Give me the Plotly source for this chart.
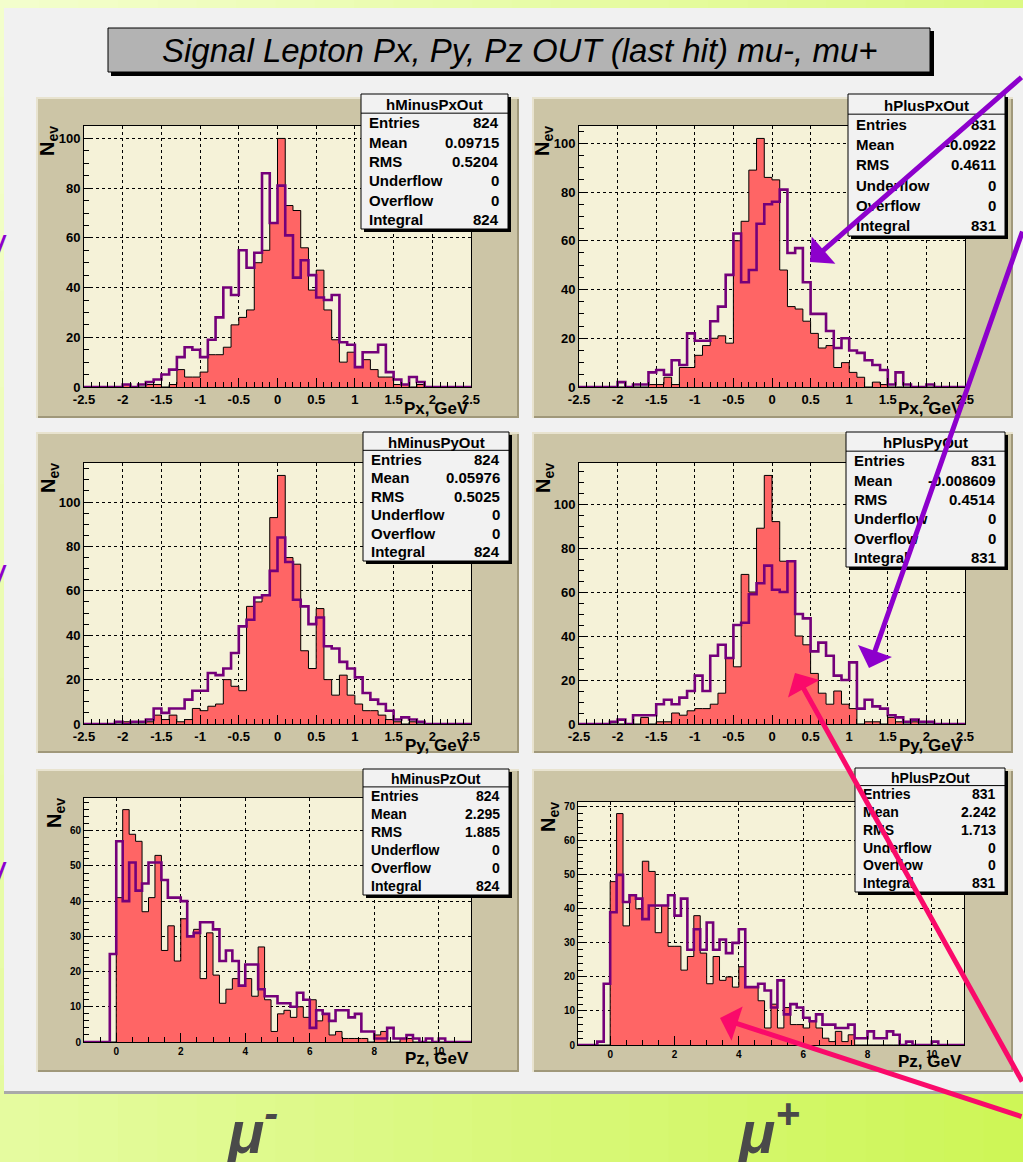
import plotly.graph_objects as go
import numpy as np

W, H = 1023, 1162
FONT = "Liberation Sans, Arial, Helvetica, sans-serif"

# ---------------- data ----------------
px_bin_edges = [round(v, 4) for v in np.linspace(-2.5, 2.5, 51)]   # 50 bins, 0.1 GeV
pz_bin_edges = [round(v, 4) for v in np.linspace(-1.0, 11.0, 61)]  # 60 bins, 0.2 GeV

minus_px_out = [0, 0, 0, 0, 0, 1, 0, 0, 1, 1, 0, 1, 7, 4, 4, 6, 13, 13, 16, 25,
                28, 31, 50, 55, 66, 100, 73, 71, 56, 39, 47, 31, 19, 10, 14, 8, 11, 7, 4, 4,
                1, 1, 0, 1, 0, 0, 0, 0, 0, 0]
minus_px_cmp = [0, 0, 0, 0, 0, 1, 0, 1, 2, 3, 5, 7, 12, 16, 15, 12, 19, 28, 40, 37,
                55, 48, 54, 86, 66, 81, 61, 44, 51, 45, 36, 35, 37, 18, 17, 8, 14, 14, 17, 6,
                3, 1, 4, 2, 0, 0, 0, 0, 0, 0]
plus_px_out = [0, 0, 0, 0, 0, 0, 0, 0, 0, 1, 1, 4, 1, 8, 8, 13, 17, 20, 21, 18,
               60, 68, 89, 102, 86, 85, 48, 33, 32, 27, 22, 16, 17, 8, 10, 6, 4, 0, 2, 1,
               0, 0, 0, 0, 0, 0, 0, 0, 0, 0]
plus_px_cmp = [0, 0, 0, 0, 0, 2, 0, 1, 1, 6, 7, 5, 11, 9, 22, 19, 19, 27, 33, 46,
               63, 43, 48, 67, 75, 76, 81, 55, 57, 43, 30, 30, 23, 16, 20, 15, 14, 11, 9, 7,
               1, 6, 1, 0, 0, 1, 0, 0, 0, 0]
minus_py_out = [0, 0, 0, 0, 0, 1, 0, 0, 1, 4, 2, 4, 1, 2, 7, 6, 8, 9, 20, 17,
                15, 53, 55, 58, 93, 112, 75, 72, 33, 25, 52, 20, 13, 22, 13, 9, 6, 6, 4, 2,
                1, 0, 1, 0, 0, 0, 0, 0, 0, 0]
minus_py_cmp = [0, 0, 0, 0, 1, 0, 1, 1, 2, 7, 5, 7, 7, 11, 15, 15, 23, 22, 25, 32,
                44, 47, 57, 58, 69, 84, 73, 56, 53, 45, 48, 35, 34, 28, 25, 21, 14, 11, 9, 6,
                2, 3, 2, 1, 0, 0, 0, 0, 0, 0]
plus_py_out = [0, 0, 0, 0, 0, 0, 0, 0, 3, 0, 1, 1, 5, 4, 6, 7, 7, 9, 14, 30,
               26, 68, 60, 89, 113, 92, 74, 74, 40, 36, 23, 14, 9, 15, 9, 7, 0, 1, 1, 0,
               3, 1, 0, 1, 0, 0, 0, 0, 0, 0]
plus_py_cmp = [0, 0, 0, 0, 1, 2, 0, 4, 4, 4, 9, 11, 9, 12, 15, 22, 15, 31, 36, 30,
               45, 46, 59, 64, 72, 61, 60, 74, 50, 48, 33, 37, 31, 22, 20, 28, 7, 11, 8, 7,
               4, 3, 1, 2, 1, 1, 0, 0, 0, 0]
minus_pz_out = [0, 0, 0, 0, 0, 41, 66, 59, 57, 37, 41, 53, 26, 33, 23, 35, 30, 32, 18, 31,
                19, 11, 15, 18, 16, 18, 13, 27, 12, 3, 8, 9, 7, 10, 7, 12, 6, 8, 2, 3,
                1, 1, 1, 1, 0, 2, 3, 0, 0, 1, 1, 0, 0, 0, 0, 0, 0, 0, 0, 0]
minus_pz_cmp = [0, 0, 0, 0, 25, 57, 40, 51, 43, 45, 51, 51, 46, 41, 41, 40, 30, 31, 34, 34,
                32, 23, 26, 23, 16, 22, 22, 15, 13, 13, 11, 11, 10, 14, 12, 4, 9, 8, 6, 9,
                9, 7, 8, 3, 3, 1, 1, 4, 1, 1, 2, 1, 0, 1, 0, 1, 0, 0, 0, 0]
plus_pz_out = [0, 0, 0, 0, 0, 48, 68, 35, 44, 40, 54, 51, 33, 41, 29, 29, 22, 26, 38, 27,
               18, 26, 19, 20, 17, 23, 17, 17, 13, 5, 12, 5, 11, 6, 6, 5, 7, 5, 2, 1,
               4, 1, 3, 0, 0, 0, 0, 0, 0, 0, 0, 0, 0, 0, 0, 0, 0, 0, 0, 0]
plus_pz_cmp = [0, 0, 0, 1, 18, 39, 50, 42, 44, 43, 37, 41, 41, 41, 44, 38, 43, 28, 34, 28,
               36, 28, 31, 27, 30, 34, 17, 17, 18, 16, 11, 19, 9, 12, 11, 8, 7, 9, 6, 6,
               5, 5, 6, 2, 2, 4, 2, 2, 4, 3, 0, 1, 0, 0, 0, 1, 0, 0, 0, 0]

hist_names = ["hMinusPxOut", "hPlusPxOut", "hMinusPyOut", "hPlusPyOut", "hMinusPzOut", "hPlusPzOut"]
stat_labels = ["Entries", "Mean", "RMS", "Underflow", "Overflow", "Integral"]
stat_entries = ["824", "831", "824", "831", "824", "831"]
stat_mean = ["0.09715", "-0.0922", "0.05976", "-0.008609", "2.295", "2.242"]
stat_rms = ["0.5204", "0.4611", "0.5025", "0.4514", "1.885", "1.713"]
stat_underflow = ["0", "0", "0", "0", "0", "0"]
stat_overflow = ["0", "0", "0", "0", "0", "0"]
stat_integral = ["824", "831", "824", "831", "824", "831"]

x_titles = ["Px, GeV", "Px, GeV", "Py, GeV", "Py, GeV", "Pz, GeV", "Pz, GeV"]
p_tick_vals = [-2.5, -2, -1.5, -1, -0.5, 0, 0.5, 1, 1.5, 2, 2.5]
p_tick_text = ["-2.5", "-2", "-1.5", "-1", "-0.5", "0", "0.5", "1", "1.5", "2", "2.5"]
pz_tick_vals = [0, 2, 4, 6, 8, 10]
pz_tick_text = ["0", "2", "4", "6", "8", "10"]
y_ticks_p = [0, 20, 40, 60, 80, 100]
y_ticks_pz = [0, 10, 20, 30, 40, 50, 60, 70]

title_text = "Signal Lepton Px, Py, Pz OUT (last hit) mu-, mu+"
column_labels = ["μ<sup>-</sup>", "μ<sup>+</sup>"]

# ---------------- styling ----------------
RED = "#ff6565"
PURPLE_LINE = "#74007a"
ARROW_PURPLE = "#8d00cc"
ARROW_PINK = "#fa0a6a"
TAN = "#ccc5a6"
CREAM = "#f5f2d8"
CANVAS = "#f1f1f1"

panels = [
    dict(out=minus_px_out, cmp=minus_px_cmp, edges=px_bin_edges, kind="p",
         plot=(84, 126, 471, 387), pad=(36, 97, 519, 418), stats=(361, 94, 508, 229)),
    dict(out=plus_px_out, cmp=plus_px_cmp, edges=px_bin_edges, kind="p",
         plot=(579, 126, 965, 387), pad=(532, 97, 1013, 418), stats=(848, 94, 1005, 236)),
    dict(out=minus_py_out, cmp=minus_py_cmp, edges=px_bin_edges, kind="p",
         plot=(84, 463, 471, 724), pad=(36, 432, 519, 753), stats=(363, 432, 509, 561)),
    dict(out=plus_py_out, cmp=plus_py_cmp, edges=px_bin_edges, kind="p",
         plot=(579, 463, 965, 724), pad=(532, 432, 1013, 753), stats=(846, 432, 1005, 567)),
    dict(out=minus_pz_out, cmp=minus_pz_cmp, edges=pz_bin_edges, kind="pz",
         plot=(84, 798, 471, 1042), pad=(36, 769, 519, 1072), stats=(363, 769, 509, 895)),
    dict(out=plus_pz_out, cmp=plus_pz_cmp, edges=pz_bin_edges, kind="pz",
         plot=(578, 802, 964, 1045), pad=(532, 769, 1013, 1072), stats=(855, 768, 1005, 892)),
]


def X(px):
    return px / W


def Y(py):
    return 1 - py / H


shapes = []
annotations = []


def rect(x0, y0, x1, y1, fill, layer="below", lc=None, lw=0):
    shapes.append(dict(type="rect", xref="paper", yref="paper",
                       x0=X(x0), x1=X(x1), y0=Y(y1), y1=Y(y0),
                       fillcolor=fill, layer=layer,
                       line=dict(color=lc or fill, width=lw)))


def hline(x0, x1, y, color="black", width=1, layer="above"):
    shapes.append(dict(type="line", xref="paper", yref="paper",
                       x0=X(x0), x1=X(x1), y0=Y(y), y1=Y(y), layer=layer,
                       line=dict(color=color, width=width)))


# background gradient (slide)
c0 = np.array([245, 255, 208])
c1 = np.array([205, 246, 84])
NX, NY = 26, 12
for i in range(NX):
    for j in range(NY):
        t = 0.6 * (i + 0.5) / NX + 0.4 * (j + 0.5) / NY
        c = (c0 + (c1 - c0) * t).astype(int)
        rect(i * W / NX, j * H / NY, (i + 1) * W / NX + 1, (j + 1) * H / NY + 1,
             "rgb(%d,%d,%d)" % tuple(c))

# canvas
rect(4, 11, 1026, 1094, "#a9a9a9")
rect(4, 8, 1026, 1091, CANVAS)

# title box
rect(111, 31, 934, 76, "#000000")
rect(108, 28, 930, 72, "#b3b3b3", lc="black", lw=1)
annotations.append(dict(xref="paper", yref="paper", x=X(520), y=Y(50), text=title_text,
                        showarrow=False, xanchor="center", yanchor="middle",
                        font=dict(family=FONT, size=33, color="black", style="italic")))

layout_axes = {}
fig = go.Figure()

for k, p in enumerate(panels):
    n = "" if k == 0 else str(k + 1)
    x0, y0, x1, y1 = p["plot"]
    px0, py0, px1, py1 = p["pad"]
    # pad with bevel
    rect(px0, py0, px1, py1, "#e8e3cf")
    rect(px0 + 2, py0 + 2, px1, py1, "#a0987a")
    rect(px0 + 2, py0 + 2, px1 - 2, py1 - 2, TAN)
    rect(x0, y0, x1, y1, CREAM)

    edges = p["edges"]
    ymax = 1.05 * max(max(p["out"]), max(p["cmp"]))
    is_p = p["kind"] == "p"
    tfs = 13 if is_p else 10
    layout_axes["xaxis" + n] = dict(
        domain=[X(x0), X(x1)], range=[edges[0], edges[-1]], anchor="y" + n,
        tickmode="array", tickvals=p_tick_vals if is_p else pz_tick_vals,
        ticktext=p_tick_text if is_p else pz_tick_text,
        ticks="inside", ticklen=9, tickwidth=1, tickcolor="black",
        showline=True, linecolor="black", linewidth=1, mirror=True,
        showgrid=True, gridcolor="black", griddash="dot", gridwidth=1, zeroline=False,
        tickfont=dict(family=FONT, size=tfs, color="black", weight="bold"),
        minor=dict(tickmode="linear", tick0=0, dtick=0.1 if is_p else 0.5, ticks="inside",
                   ticklen=5, tickcolor="black", showgrid=False),
        automargin=False, fixedrange=True)
    layout_axes["yaxis" + n] = dict(
        domain=[Y(y1), Y(y0)], range=[0, ymax], anchor="x" + n,
        tickmode="array", tickvals=y_ticks_p if is_p else y_ticks_pz,
        ticks="inside", ticklen=9, tickwidth=1, tickcolor="black",
        showline=True, linecolor="black", linewidth=1, mirror=True,
        showgrid=True, gridcolor="black", griddash="dot", gridwidth=1, zeroline=False,
        tickfont=dict(family=FONT, size=tfs, color="black", weight="bold"),
        minor=dict(tickmode="linear", tick0=0, dtick=5 if is_p else 2, ticks="inside",
                   ticklen=5, tickcolor="black", showgrid=False),
        automargin=False, fixedrange=True)

    fig.add_trace(go.Scatter(x=edges, y=list(p["out"]) + [p["out"][-1]], mode="lines",
                             line=dict(shape="hv", color="black", width=1),
                             fill="tozeroy", fillcolor=RED,
                             xaxis="x" + n, yaxis="y" + n, hoverinfo="skip", showlegend=False))
    fig.add_trace(go.Scatter(x=edges, y=list(p["cmp"]) + [p["cmp"][-1]], mode="lines",
                             line=dict(shape="hv", color=PURPLE_LINE, width=2.6),
                             xaxis="x" + n, yaxis="y" + n, hoverinfo="skip", showlegend=False))

    # axis titles
    annotations.append(dict(xref="paper", yref="paper", x=X(x1), y=Y(y1 + (21 if is_p else 16)),
                            text=x_titles[k], showarrow=False, xanchor="right", yanchor="middle",
                            font=dict(family=FONT, size=17, color="black", weight="bold")))
    annotations.append(dict(xref="paper", yref="paper", x=X(x0 - (35 if is_p else 29)), y=Y(y0 + 15),
                            text="N<sub>ev</sub>", showarrow=False, textangle=-90,
                            xanchor="center", yanchor="middle",
                            font=dict(family=FONT, size=20, color="black", weight="bold")))

    # stats box
    bx0, by0, bx1, by1 = p["stats"]
    rect(bx0 + 3, by0 + 3, bx1 + 3, by1 + 3, "#000000", layer="above")
    rect(bx0, by0, bx1, by1, "#f2f2f2", layer="above", lc="black", lw=1)
    bh = by1 - by0
    sep = by0 + 0.142 * bh
    hline(bx0, bx1, sep)
    sfs = 15 if is_p else 14
    annotations.append(dict(xref="paper", yref="paper", x=X((bx0 + bx1) / 2), y=Y((by0 + sep) / 2 + 1),
                            text=hist_names[k], showarrow=False, xanchor="center", yanchor="middle",
                            font=dict(family=FONT, size=sfs, color="black", weight="bold")))
    values = [stat_entries[k], stat_mean[k], stat_rms[k], stat_underflow[k],
              stat_overflow[k], stat_integral[k]]
    rh = (by1 - sep) / 6
    for r, (lab, val) in enumerate(zip(stat_labels, values)):
        yc = sep + rh * (r + 0.5)
        annotations.append(dict(xref="paper", yref="paper", x=X(bx0 + 6), y=Y(yc),
                                text=lab, showarrow=False, xanchor="left", yanchor="middle",
                                font=dict(family=FONT, size=sfs, color="black", weight="bold")))
        annotations.append(dict(xref="paper", yref="paper", x=X(bx1 - 7), y=Y(yc),
                                text=val, showarrow=False, xanchor="right", yanchor="middle",
                                font=dict(family=FONT, size=sfs, color="black", weight="bold")))

# column labels mu-, mu+
for xc, lab in zip([252, 768], column_labels):
    annotations.append(dict(xref="paper", yref="paper", x=X(xc), y=Y(1128), text=lab,
                            showarrow=False, xanchor="center", yanchor="middle",
                            font=dict(family=FONT, size=60, color="#4a4a4a", weight="bold",
                                      style="italic")))

# purple fragments at left slide edge
for yc in [245, 575, 872]:
    annotations.append(dict(xref="paper", yref="paper", x=X(1), y=Y(yc), text="/",
                            showarrow=False, xanchor="center", yanchor="middle",
                            font=dict(family=FONT, size=26, color=ARROW_PURPLE, weight="bold",
                                      style="italic")))

# annotation arrows
arrows = [((810, 262), (1035, 76), ARROW_PURPLE),
          ((869, 668), (1041, 230), ARROW_PURPLE),
          ((795, 673), (1040, 1083), ARROW_PINK),
          ((720, 1018), (1040, 1117), ARROW_PINK)]
for (hx, hy), (tx, ty), col in arrows:
    annotations.append(dict(xref="paper", yref="paper", x=X(hx), y=Y(hy), text="",
                            showarrow=True, ax=tx - hx, ay=ty - hy, arrowhead=1,
                            arrowsize=1.2, arrowwidth=5, arrowcolor=col))

fig.update_layout(
    width=W, height=H, autosize=False,
    margin=dict(l=0, r=0, t=0, b=0, pad=0, autoexpand=False),
    paper_bgcolor="#e2fa98", plot_bgcolor="rgba(0,0,0,0)",
    showlegend=False, shapes=shapes, annotations=annotations,
    font=dict(family=FONT, color="black"),
    **layout_axes)

fig.write_html("out.html", config={"displayModeBar": False, "staticPlot": True},
               post_script="document.body.style.margin='0px';document.body.style.overflow='hidden';")
